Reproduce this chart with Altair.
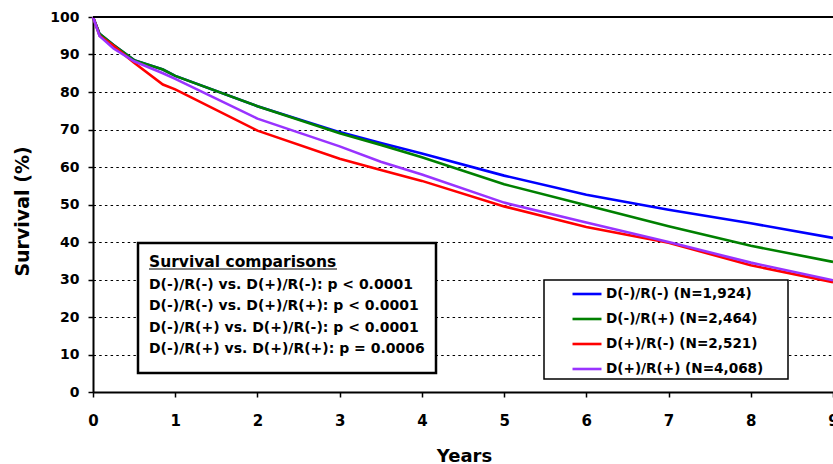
import altair as alt
import pandas as pd

# ---- data ----
years = [0, 0.08, 0.25, 0.5, 0.85, 1, 2, 3, 3.5, 4, 5, 6, 7, 8, 9]
surv_dn_rn = [100, 95.5, 92.5, 88.5, 86.0, 84.3, 76.2, 69.3, 66.4, 63.6, 57.7, 52.6, 48.6, 45.0, 41.1]
surv_dn_rp = [100, 95.5, 92.5, 88.5, 86.0, 84.3, 76.2, 69.0, 65.9, 62.6, 55.4, 49.8, 44.2, 39.0, 34.7]
surv_dp_rn = [100, 95.0, 92.3, 87.8, 82.0, 80.7, 69.7, 62.2, 59.2, 56.3, 49.5, 44.0, 39.8, 33.8, 29.3]
surv_dp_rp = [100, 94.9, 91.6, 88.2, 85.0, 83.5, 72.9, 65.5, 61.4, 58.0, 50.5, 45.2, 40.0, 34.5, 29.8]

series_names = ["D(-)/R(-) (N=1,924)", "D(-)/R(+) (N=2,464)",
                "D(+)/R(-) (N=2,521)", "D(+)/R(+) (N=4,068)"]
series_values = [surv_dn_rn, surv_dn_rp, surv_dp_rn, surv_dp_rp]
series_colors = ["#0000FF", "#008000", "#FF0000", "#9933FF"]

x_ticks = [0, 1, 2, 3, 4, 5, 6, 7, 8, 9]
y_ticks = [0, 10, 20, 30, 40, 50, 60, 70, 80, 90, 100]

comparison_title = "Survival comparisons"
comparisons = [
    "D(-)/R(-) vs. D(+)/R(-): p < 0.0001",
    "D(-)/R(-) vs. D(+)/R(+): p < 0.0001",
    "D(-)/R(+) vs. D(+)/R(-): p < 0.0001",
    "D(-)/R(+) vs. D(+)/R(+): p = 0.0006",
]

FONT = "DejaVu Sans"

rows = []
for name, vals in zip(series_names, series_values):
    for i, (t, v) in enumerate(zip(years, vals)):
        rows.append({"Years": t, "Survival": v, "Group": name, "order": i})
df = pd.DataFrame(rows)

W, H = 740, 375

lines = alt.Chart(df).mark_line(strokeWidth=2.6, interpolate="linear").encode(
    x=alt.X("Years:Q", scale=alt.Scale(domain=[0, 9], nice=False),
            axis=alt.Axis(values=x_ticks, title="Years", grid=False,
                          tickSize=5, tickWidth=1.5, domainWidth=2,
                          labelFontSize=15, labelPadding=16, labelFlush=False,
                          titleFontSize=18, titleBaseline="alphabetic",
                          titleY=69, titleX=371)),
    y=alt.Y("Survival:Q", scale=alt.Scale(domain=[0, 100], nice=False),
            axis=alt.Axis(values=y_ticks, title="Survival (%)", grid=True,
                          gridDash=[2.5, 3.2], gridColor="black", gridWidth=1,
                          gridOpacity=1, labelFlush=False,
                          tickSize=5, tickWidth=1.5, domainWidth=2,
                          labelFontSize=14, labelPadding=9,
                          titleFontSize=19, titleX=-61, titleY=194)),
    color=alt.Color("Group:N", sort=series_names,
                    scale=alt.Scale(domain=series_names, range=series_colors),
                    legend=alt.Legend(title=None, orient="none",
                                      legendX=478, legendY=268,
                                      symbolType="M-2,0H2", symbolSize=210,
                                      symbolStrokeWidth=2.6,
                                      symbolOffset=7,
                                      labelFont=FONT, labelFontWeight="bold",
                                      labelFontSize=13.6, labelOffset=10,
                                      rowPadding=9, padding=0,
                                      labelColor="black")),
    order="order:Q",
)

one = pd.DataFrame({"k": [0]})

# solid frame line along the top of the plot area
top_rule = alt.Chart(one).mark_rule(color="black", strokeWidth=2).encode(
    x=alt.value(0), x2=alt.value(W), y=alt.value(0))

legend_box = alt.Chart(one).mark_rect(fill="white", stroke="black",
                                      strokeWidth=1.5).encode(
    x=alt.value(451), x2=alt.value(695), y=alt.value(263), y2=alt.value(362))

comp_box = alt.Chart(one).mark_rect(fill="white", stroke="black",
                                    strokeWidth=2.5).encode(
    x=alt.value(45), x2=alt.value(343), y=alt.value(226), y2=alt.value(356))

text_layers = []
title_txt = alt.Chart(pd.DataFrame({"t": [comparison_title]})).mark_text(
    align="left", baseline="alphabetic", font=FONT, fontWeight="bold",
    fontSize=15.5, color="black").encode(
    text="t:N", x=alt.value(56), y=alt.value(249.5))
text_layers.append(title_txt)
underline = alt.Chart(one).mark_rule(color="black", strokeWidth=1.2).encode(
    x=alt.value(56), x2=alt.value(244), y=alt.value(252))
text_layers.append(underline)
for i, line in enumerate(comparisons):
    text_layers.append(
        alt.Chart(pd.DataFrame({"t": [line]})).mark_text(
            align="left", baseline="alphabetic", font=FONT, fontWeight="bold",
            fontSize=14, color="black").encode(
            text="t:N", x=alt.value(56), y=alt.value(272 + i * 21.3)))

chart = alt.layer(lines, top_rule, comp_box, legend_box, *text_layers).properties(
    width=W, height=H,
    autosize=alt.AutoSizeParams(type="none"),
    padding={"left": 93, "top": 17, "right": 0, "bottom": 72},
    background="white",
).configure_view(stroke=None).configure_axis(
    labelFont=FONT, labelFontWeight="bold", labelColor="black",
    titleFont=FONT, titleFontWeight="bold", titleColor="black",
    domainColor="black", tickColor="black",
)

chart.save("out.html", embed_options={"renderer": "svg", "actions": False})
